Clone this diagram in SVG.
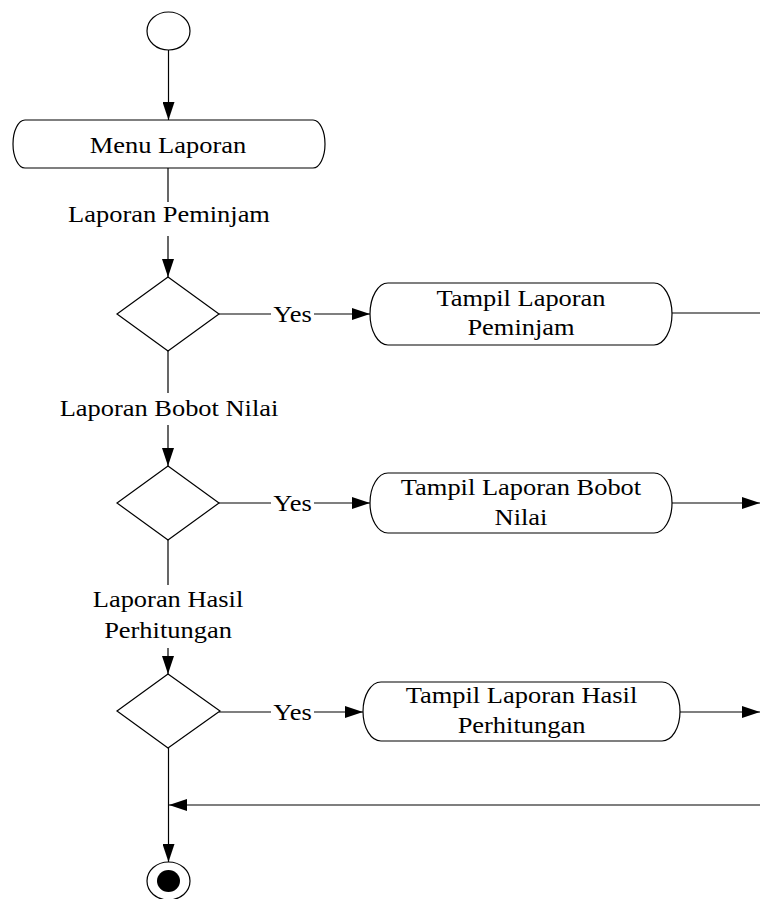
<svg xmlns="http://www.w3.org/2000/svg" width="760" height="899" viewBox="0 0 760 899">
<style>
.s{fill:none;stroke:#000;stroke-width:1.2}
.n{fill:#fff;stroke:#000;stroke-width:1.2}
.t{font-family:"Liberation Serif","Times New Roman",serif;font-size:23px;fill:#000;text-anchor:middle}
</style>
<defs>
<marker id="a" viewBox="0 0 18 12" refX="18" refY="6" markerWidth="18" markerHeight="12" markerUnits="userSpaceOnUse" orient="auto">
<path d="M0,0 L18,6 L0,12 Z" fill="#000"/>
</marker>
</defs>
<g id="connectors">
<line class="s" x1="168.5" y1="50" x2="168.5" y2="120" marker-end="url(#a)"/>
<line class="s" x1="168" y1="168" x2="168" y2="202"/>
<line class="s" x1="168" y1="236" x2="168" y2="277" marker-end="url(#a)"/>
<line class="s" x1="219" y1="314" x2="271" y2="314"/>
<line class="s" x1="314" y1="314" x2="370" y2="314" marker-end="url(#a)"/>
<line class="s" x1="672" y1="313" x2="760" y2="313"/>
<line class="s" x1="168" y1="351" x2="168" y2="393"/>
<line class="s" x1="168" y1="425" x2="168" y2="466" marker-end="url(#a)"/>
<line class="s" x1="219" y1="503" x2="271" y2="503"/>
<line class="s" x1="314" y1="503" x2="370" y2="503" marker-end="url(#a)"/>
<line class="s" x1="672" y1="503" x2="760" y2="503" marker-end="url(#a)"/>
<line class="s" x1="168" y1="540" x2="168" y2="585"/>
<line class="s" x1="168" y1="648" x2="168" y2="674" marker-end="url(#a)"/>
<line class="s" x1="219" y1="712" x2="271" y2="712"/>
<line class="s" x1="314" y1="712" x2="363" y2="712" marker-end="url(#a)"/>
<line class="s" x1="680" y1="712" x2="760" y2="712" marker-end="url(#a)"/>
<line class="s" x1="760" y1="805" x2="169" y2="805" marker-end="url(#a)"/>
<line class="s" x1="168.5" y1="748" x2="168.5" y2="862" marker-end="url(#a)"/>
<text class="t" transform="translate(169,222) scale(1.15,1)">Laporan Peminjam</text>
<text class="t" transform="translate(292.5,322) scale(1.15,1)">Yes</text>
<text class="t" transform="translate(169,416) scale(1.15,1)">Laporan Bobot Nilai</text>
<text class="t" transform="translate(292.5,511) scale(1.15,1)">Yes</text>
<text class="t" transform="translate(168,607) scale(1.15,1)">Laporan Hasil</text>
<text class="t" transform="translate(168,638) scale(1.15,1)">Perhitungan</text>
<text class="t" transform="translate(292.5,720) scale(1.15,1)">Yes</text>
</g>
<g id="start">
<ellipse class="n" cx="168.5" cy="31" rx="21.5" ry="19"/>
</g>
<g id="menu">
<path class="n" d="M25,120 H313 A12,24 0 0 1 325,144 A12,24 0 0 1 313,168 H25 A12,24 0 0 1 13,144 A12,24 0 0 1 25,120 Z"/>
<text class="t" transform="translate(168,153) scale(1.15,1)">Menu Laporan</text>
</g>
<g id="dec1">
<polygon class="n" points="168,277 219,314 168,351 117,314"/>
</g>
<g id="tampil1">
<path class="n" d="M388,283 H654 A18,31 0 0 1 672,314 A18,31 0 0 1 654,345 H388 A18,31 0 0 1 370,314 A18,31 0 0 1 388,283 Z"/>
<text class="t" transform="translate(521,306) scale(1.15,1)">Tampil Laporan</text>
<text class="t" transform="translate(521,335) scale(1.15,1)">Peminjam</text>
</g>
<g id="dec2">
<polygon class="n" points="168,466 219,503 168,540 117,503"/>
</g>
<g id="tampil2">
<path class="n" d="M388,473 H654 A18,30 0 0 1 672,503 A18,30 0 0 1 654,533 H388 A18,30 0 0 1 370,503 A18,30 0 0 1 388,473 Z"/>
<text class="t" transform="translate(521,495) scale(1.15,1)">Tampil Laporan Bobot</text>
<text class="t" transform="translate(521,525) scale(1.15,1)">Nilai</text>
</g>
<g id="dec3">
<polygon class="n" points="168,674 220,711 168,748 117,711"/>
</g>
<g id="tampil3">
<path class="n" d="M381,682 H662 A18,29.5 0 0 1 680,711.5 A18,29.5 0 0 1 662,741 H381 A18,29.5 0 0 1 363,711.5 A18,29.5 0 0 1 381,682 Z"/>
<text class="t" transform="translate(521.5,703) scale(1.15,1)">Tampil Laporan Hasil</text>
<text class="t" transform="translate(521.5,733) scale(1.15,1)">Perhitungan</text>
</g>
<g id="end">
<ellipse class="n" cx="168.5" cy="881" rx="21.5" ry="19"/>
<ellipse cx="168.5" cy="881" rx="11.5" ry="11" fill="#000"/>
</g>
</svg>
